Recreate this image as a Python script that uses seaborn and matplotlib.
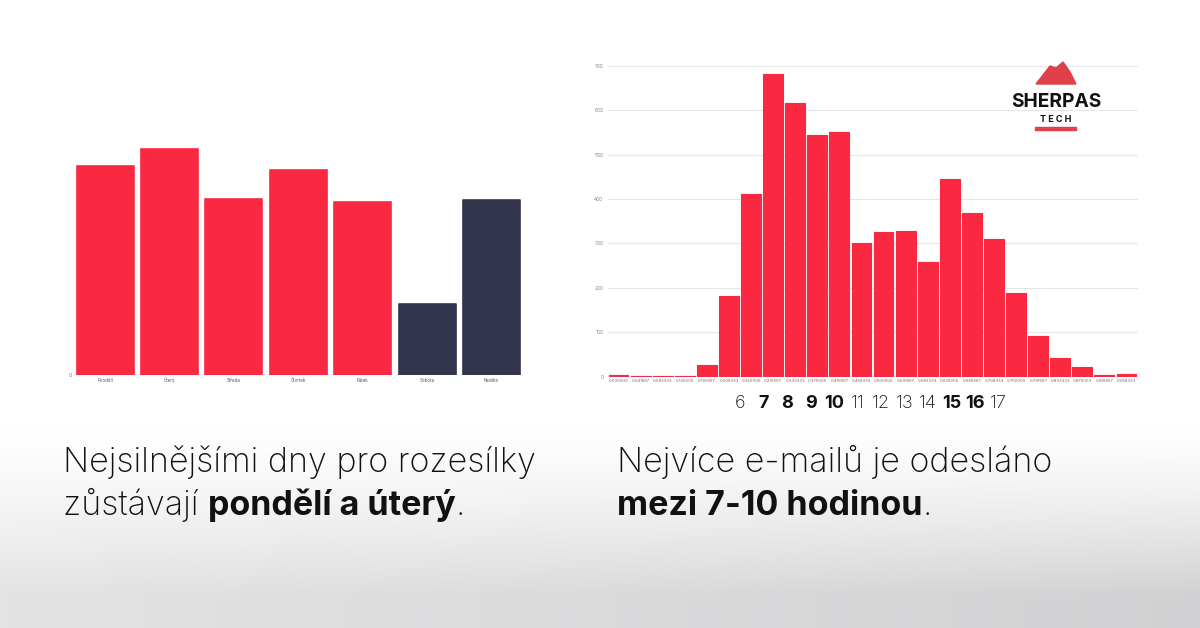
import numpy as np
import pandas as pd
import matplotlib
matplotlib.use("Agg")
import matplotlib.pyplot as plt
import matplotlib.transforms as mtransforms
from matplotlib.patches import Polygon, Rectangle
import seaborn as sns

# ---------------- data ----------------
days = ["Pondělí", "Úterý", "Středa", "Čtvrtek", "Pátek", "Sobota", "Neděle"]
day_values = [209, 226, 176, 205, 173, 71, 175]
day_type = ["work", "work", "work", "work", "work", "weekend", "weekend"]

hours = list(range(24))
hour_values = [3, 2, 1, 2, 26, 182, 411, 682, 615, 545, 550, 301,
               325, 328, 258, 446, 368, 310, 188, 92, 43, 21, 3, 6]
hour_labels = [6, 7, 8, 9, 10, 11, 12, 13, 14, 15, 16, 17]
bold_hours = [7, 8, 9, 10, 15, 16]
y_ticks = [0, 100, 200, 300, 400, 500, 600, 700]

RED = "#FB2842"
NAVY = "#33344D"

sns.set_theme(style="white")
plt.rcParams["font.family"] = ["Inter", "DejaVu Sans"]

W, H = 1200, 628
fig = plt.figure(figsize=(12, 6.28), dpi=100)
fig.patch.set_facecolor("white")

# ---------------- soft grey background at bottom ----------------
bg = fig.add_axes([0, 0, 1, 1], zorder=-10)
yy, xx = np.mgrid[0:H, 0:W]
a = np.clip((yy - 425) / 170.0, 0, 1) ** 1.3
a = a * (0.55 + 0.35 * xx / W)
img = np.zeros((H, W, 4))
img[..., 0] = 0.80
img[..., 1] = 0.80
img[..., 2] = 0.81
img[..., 3] = a
bg.imshow(img, extent=[0, W, H, 0], aspect="auto")
bg.set_xlim(0, W)
bg.set_ylim(H, 0)
bg.axis("off")

# ---------------- left chart ----------------
axL = fig.add_axes([72.8 / W, 1 - 375 / H, 450.9 / W, 250 / H])
dfL = pd.DataFrame({"day": days, "value": day_values, "type": day_type})
sns.barplot(data=dfL, x="day", y="value", hue="type",
            palette={"work": RED, "weekend": NAVY}, saturation=1,
            width=0.885, legend=False, ax=axL)
for p in axL.patches:
    p.set_edgecolor(p.get_facecolor())
    p.set_linewidth(1.2)
    p.set_joinstyle("round")
axL.set_xlim(-0.5, len(days) - 0.5)
axL.set_ylim(0, 250)
axL.set_yticks([0])
axL.set_yticklabels(["0"])
axL.tick_params(axis="y", labelsize=3.5, colors="#777777", length=0, pad=1)
axL.tick_params(axis="x", labelsize=3.2, colors="#555555", length=0, pad=5)
for lbl in axL.get_xticklabels():
    lbl.set_verticalalignment("baseline")
axL.set_xlabel("")
axL.set_ylabel("")
for s in axL.spines.values():
    s.set_visible(False)
axL.set_facecolor("none")

# ---------------- right chart ----------------
axR = fig.add_axes([607.5 / W, 1 - 376.7 / H, 530 / W, 311 / H])
dfR = pd.DataFrame({"hour": [f"{h / 24:.6f}" for h in hours], "value": hour_values})
sns.barplot(data=dfR, x="hour", y="value", color=RED, saturation=1,
            width=0.9, ax=axR, zorder=3)
for p in axR.patches:
    p.set_edgecolor(RED)
    p.set_linewidth(0.8)
    p.set_joinstyle("round")
axR.set_xlim(-0.5, len(hours) - 0.5)
axR.set_ylim(0, 700)
axR.set_yticks(y_ticks)
axR.set_yticklabels([str(v) for v in y_ticks])
axR.yaxis.grid(True, color="#E6E6E6", linewidth=0.8, zorder=0)
axR.xaxis.grid(False)
axR.tick_params(axis="y", labelsize=3.5, colors="#888888", length=0, pad=3)
axR.tick_params(axis="x", labelsize=3.0, colors="#666666", length=0, pad=1.5)
axR.set_xlabel("")
axR.set_ylabel("")
for s in axR.spines.values():
    s.set_visible(False)
axR.set_facecolor("none")

# hour annotation row under the right chart
trans = mtransforms.blended_transform_factory(axR.transData, fig.transFigure)
for h in hour_labels:
    xpos = h - 0.5 + (h - 6) * 0.065
    axR.text(xpos, 1 - 408 / H, str(h), transform=trans, ha="center",
             va="baseline", fontsize=13, color="#111111",
             fontweight="bold" if h in bold_hours else "light",
             clip_on=False)

# ---------------- captions ----------------
FS = 24.5

def caption(x_px, y_px, parts):
    fig.canvas.draw()
    x = x_px / W
    r = fig.canvas.get_renderer()
    for txt, bold in parts:
        t = fig.text(x, 1 - y_px / H, txt, fontsize=FS, color="#111111",
                     fontweight="bold" if bold else "light", ha="left",
                     va="baseline")
        bb = t.get_window_extent(renderer=r)
        x = bb.x1 / W

caption(63, 472, [("Nejsilnějšími dny pro rozesílky", False)])
caption(63, 515, [("zůstávají ", False), ("pondělí a úterý", True), (".", False)])
caption(617, 472, [("Nejvíce e-mailů je odesláno", False)])
caption(617, 515, [("mezi 7-10 hodinou", True), (".", False)])

# ---------------- logo ----------------
fig.text(1056 / W, 1 - 107 / H, "SHERPAS", fontsize=13.8, fontweight="bold",
         color="#111111", ha="center", va="baseline")
fig.text(1056 / W, 1 - 121.5 / H, "T E C H", fontsize=6.5, fontweight="bold",
         color="#111111", ha="center", va="baseline")
fig.patches.append(Rectangle((1035 / W, 1 - 130 / H), 41 / W, 3.5 / H,
                             transform=fig.transFigure, color="#E0404A"))
mountain = [(1036, 84), (1050, 66), (1056, 68), (1063, 62), (1070, 72),
            (1076, 84)]
fig.patches.append(Polygon([(x / W, 1 - y / H) for x, y in mountain],
                           closed=True, transform=fig.transFigure,
                           color="#E0404A"))

fig.savefig("out.png", dpi=100, facecolor="white")
